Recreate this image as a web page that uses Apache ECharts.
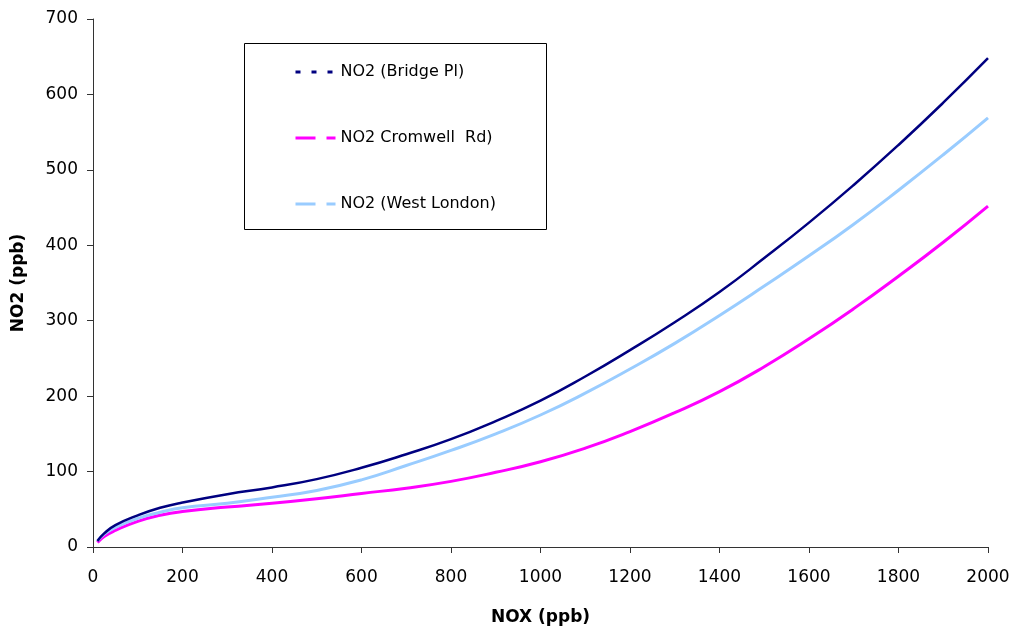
<!DOCTYPE html>
<html>
<head>
<meta charset="utf-8">
<script src="https://cdn.jsdelivr.net/npm/echarts@6/dist/echarts.min.js"></script>
<style>html,body{margin:0;padding:0;background:#fff}#c{width:1013px;height:631px}</style>
</head>
<body>
<div id="c"></div>
<script>
const noxValues = [10, 25, 50, 100, 150, 200, 300, 400, 500, 600, 700, 800, 900, 1000, 1100, 1200, 1300, 1400, 1500, 1600, 1700, 1800, 1900, 2000];
const bridgePl   = [8, 18, 29, 42, 52, 59, 70, 79, 90, 105, 123, 143, 167, 194, 226, 261, 298, 338, 383, 430, 480, 533, 589, 648];
const cromwellRd = [6, 14, 22, 34, 42, 47, 53, 58, 64, 71, 78, 87, 99, 113, 131, 153, 178, 206, 239, 276, 316, 359, 404, 452];
const westLondon = [8, 17, 26, 38, 46, 52, 58, 66, 75, 89, 108, 128, 150, 175, 204, 236, 270, 307, 346, 386, 428, 473, 520, 569];
const seriesNames = ['NO2 (Bridge Pl)', 'NO2 Cromwell  Rd)', 'NO2 (West London)'];
const xTicks = [0, 200, 400, 600, 800, 1000, 1200, 1400, 1600, 1800, 2000];
const yTicks = [0, 100, 200, 300, 400, 500, 600, 700];

const pairs = ys => noxValues.map((x, i) => [x, ys[i]]);
const FONT = 'DejaVu Sans';
const noSymbol = {color: 'rgba(0,0,0,0)', borderWidth: 0, opacity: 0};
const chart = echarts.init(document.getElementById('c'), null, {renderer: 'canvas'});
chart.setOption({
  animation: false,
  backgroundColor: '#fff',
  grid: {left: 93, right: 25, top: 19, bottom: 84},
  graphic: [{
    type: 'rect', left: 244, top: 43, z: 0,
    shape: {width: 302, height: 186},
    style: {fill: '#fff', stroke: '#000', lineWidth: 1}
  }],
  legend: {
    orient: 'vertical', left: 294, top: 64, itemWidth: 40, itemHeight: 14, itemGap: 50,
    padding: 0, z: 5,
    textStyle: {fontFamily: FONT, fontSize: 16, color: '#000', lineHeight: 16},
    data: [
      {name: seriesNames[0], itemStyle: noSymbol, lineStyle: {type: [5, 11], width: 3, color: '#000080'}},
      {name: seriesNames[1], itemStyle: noSymbol, lineStyle: {type: [20, 11], width: 3, color: '#FF00FF'}},
      {name: seriesNames[2], itemStyle: noSymbol, lineStyle: {type: [20, 11], width: 3, color: '#99CCFF'}}
    ]
  },
  xAxis: {
    type: 'value', min: 0, max: 2000, interval: 200,
    name: 'NOX (ppb)', nameLocation: 'middle', nameGap: 62,
    nameTextStyle: {fontFamily: FONT, fontSize: 17, fontWeight: 'bold', color: '#000'},
    axisLine: {show: true, lineStyle: {color: '#333', width: 1}},
    axisTick: {show: true, inside: false, length: 6, lineStyle: {color: '#333'}},
    axisLabel: {fontFamily: FONT, fontSize: 17, color: '#000', margin: 22,
      formatter: v => xTicks.includes(v) ? String(v) : ''},
    splitLine: {show: false}
  },
  yAxis: {
    type: 'value', min: 0, max: 700, interval: 100,
    name: 'NO2 (ppb)', nameLocation: 'middle', nameGap: 66,
    nameTextStyle: {fontFamily: FONT, fontSize: 17, fontWeight: 'bold', color: '#000'},
    axisLine: {show: true, lineStyle: {color: '#333', width: 1}},
    axisTick: {show: true, inside: false, length: 6, lineStyle: {color: '#333'}},
    axisLabel: {fontFamily: FONT, fontSize: 17, color: '#000', margin: 15,
      formatter: v => yTicks.includes(v) ? String(v) : ''},
    splitLine: {show: false}
  },
  series: [
    {name: seriesNames[0], type: 'line', smooth: true, symbol: 'none', data: pairs(bridgePl),
     lineStyle: {color: '#000080', width: 2.5}, itemStyle: {color: '#000080'}, z: 4},
    {name: seriesNames[1], type: 'line', smooth: true, symbol: 'none', data: pairs(cromwellRd),
     lineStyle: {color: '#FF00FF', width: 3}, itemStyle: {color: '#FF00FF'}, z: 2},
    {name: seriesNames[2], type: 'line', smooth: true, symbol: 'none', data: pairs(westLondon),
     lineStyle: {color: '#99CCFF', width: 3}, itemStyle: {color: '#99CCFF'}, z: 3}
  ]
});
</script>
</body>
</html>
